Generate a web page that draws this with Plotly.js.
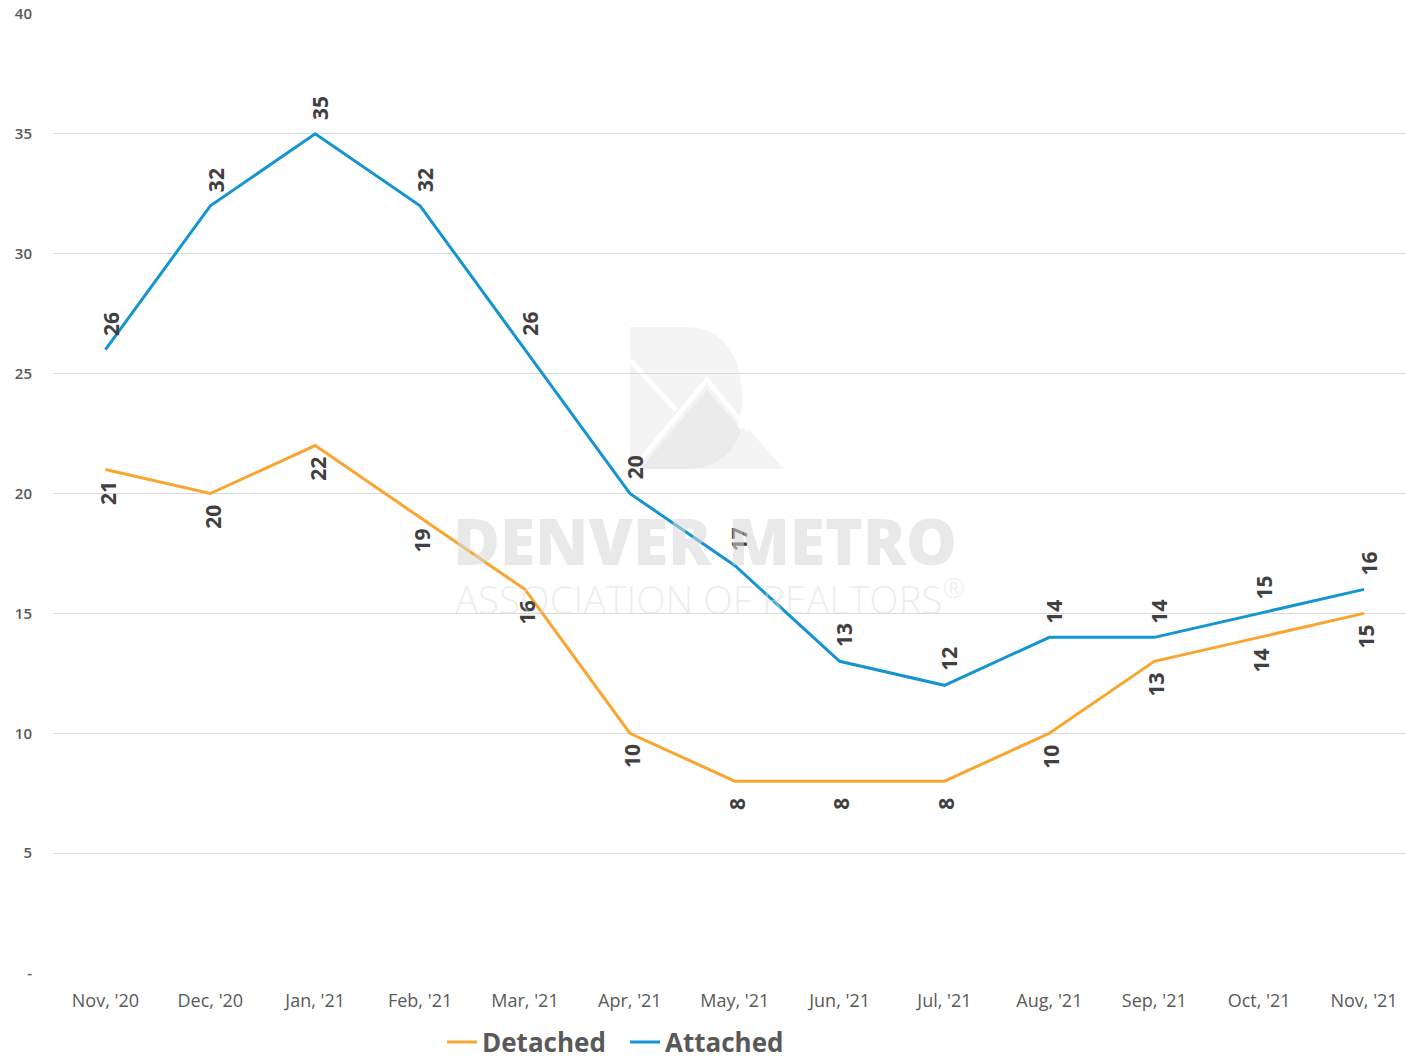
<!DOCTYPE html>
<html>
<head>
<meta charset="utf-8">
<script src="https://cdn.plot.ly/plotly-3.0.1.min.js"></script>
<style>html,body{margin:0;padding:0;background:#fff;}#chart{width:1406px;height:1061px;}</style>
</head>
<body>
<div id="chart"></div>
<script>
var months = ["Nov, '20","Dec, '20","Jan, '21","Feb, '21","Mar, '21","Apr, '21","May, '21","Jun, '21","Jul, '21","Aug, '21","Sep, '21","Oct, '21","Nov, '21"];
var detached = [21,20,22,19,16,10,8,8,8,10,13,14,15];
var attached = [26,32,35,32,26,20,17,13,12,14,14,15,16];
var yTickVals = [0,5,10,15,20,25,30,35,40];
var yTickText = ["-","5","10","15","20","25","30","35","40"];

var W = 1406, H = 1061, ML = 53, MR = 0, MT = 14, MB = 88;
function px(x){ return (x - ML) / (W - ML - MR); }
function py(y){ return (H - MB - y) / (H - MT - MB); }
function P(x,y){ return px(x).toFixed(5) + ',' + py(y).toFixed(5); }

var orange = '#F9A630', blue = '#1495D1';

var traces = [
  {x: months, y: detached, name: 'Detached', type: 'scatter', mode: 'lines',
   line: {color: orange, width: 3}, hoverinfo: 'skip'},
  {x: months, y: attached, name: 'Attached', type: 'scatter', mode: 'lines',
   line: {color: blue, width: 3}, hoverinfo: 'skip'}
];

var annotations = [];
var lblFont = {family: 'Open Sans, sans-serif', size: 21, color: '#404040', weight: 700};
months.forEach(function(m, i){
  annotations.push({x: m, y: attached[i], xref: 'x', yref: 'y', text: String(attached[i]),
    showarrow: false, textangle: -90, xanchor: 'center', yanchor: 'middle',
    xshift: 5, yshift: 26, font: lblFont});
  annotations.push({x: m, y: detached[i], xref: 'x', yref: 'y', text: String(detached[i]),
    showarrow: false, textangle: -90, xanchor: 'center', yanchor: 'middle',
    xshift: 2, yshift: -23, font: lblFont});
});

// watermark text
annotations.push({xref: 'paper', yref: 'paper', x: px(705), y: py(540), text: 'DENVER METRO',
  showarrow: false, xanchor: 'center', yanchor: 'middle',
  font: {family: 'Open Sans, sans-serif', size: 64, color: 'rgba(215,215,215,0.55)', weight: 800}});
annotations.push({xref: 'paper', yref: 'paper', x: px(710), y: py(597),
  text: 'ASSOCIATION OF REALTORS<sup>®</sup>',
  showarrow: false, xanchor: 'center', yanchor: 'middle',
  font: {family: 'Open Sans, sans-serif', size: 38.5, color: 'rgba(220,220,220,0.5)', weight: 300}});

var shapes = [
  {type: 'path', xref: 'paper', yref: 'paper', layer: 'below', line: {width: 0}, fillcolor: '#f4f4f4',
   path: 'M' + P(630,327) + ' L' + P(685,327) + ' C' + P(728,327) + ' ' + P(742,362) + ' ' + P(742,398) +
         ' C' + P(742,438) + ' ' + P(722,469) + ' ' + P(685,469) + ' L' + P(630,469) + ' Z'},
  {type: 'path', xref: 'paper', yref: 'paper', layer: 'below', line: {width: 0}, fillcolor: '#f4f4f4',
   path: 'M' + P(700,469) + ' L' + P(745,425) + ' L' + P(784,469) + ' Z'},
  {type: 'path', xref: 'paper', yref: 'paper', layer: 'below', line: {width: 0}, fillcolor: '#ebebeb',
   path: 'M' + P(640,469) + ' L' + P(707,390) + ' L' + P(741,430) + ' C' + P(735,452) + ' ' + P(715,469) + ' ' + P(690,469) + ' Z'},
  {type: 'path', xref: 'paper', yref: 'paper', layer: 'below', line: {width: 5, color: '#ffffff'},
   path: 'M' + P(630,360) + ' L' + P(676,410)},
  {type: 'path', xref: 'paper', yref: 'paper', layer: 'below', line: {width: 5, color: '#ffffff'},
   path: 'M' + P(642,458) + ' L' + P(707,380) + ' L' + P(748,430)}
];

var layout = {
  width: W, height: H,
  margin: {l: ML, r: MR, t: MT, b: MB, pad: 0, autoexpand: false},
  paper_bgcolor: '#ffffff', plot_bgcolor: 'rgba(0,0,0,0)',
  showlegend: true,
  legend: {orientation: 'h', xref: 'paper', yref: 'paper',
    x: px(442), xanchor: 'left', y: py(1042), yanchor: 'middle',
    entrywidth: 138, entrywidthmode: 'pixels',
    font: {family: 'Open Sans, sans-serif', size: 26, color: '#595959', weight: 700},
    bgcolor: 'rgba(0,0,0,0)', borderwidth: 0},
  xaxis: {type: 'category', range: [-0.5, 12.4], showgrid: false, zeroline: false, automargin: false,
    showline: false, ticks: '', ticklabelstandoff: 15,
    tickfont: {family: 'Open Sans, sans-serif', size: 18, color: '#595959'}, fixedrange: true},
  yaxis: {range: [0, 40], tickvals: yTickVals, ticktext: yTickText, showgrid: true, automargin: false,
    gridcolor: '#d9d9d9', gridwidth: 1, zeroline: false, showline: false, ticks: '',
    ticklabelstandoff: 20,
    tickfont: {family: 'Open Sans, sans-serif', size: 15, color: '#595959', weight: 600}, fixedrange: true},
  annotations: annotations,
  shapes: shapes,
  hovermode: false
};

Plotly.newPlot('chart', traces, layout, {displayModeBar: false, staticPlot: true});
</script>
</body>
</html>
